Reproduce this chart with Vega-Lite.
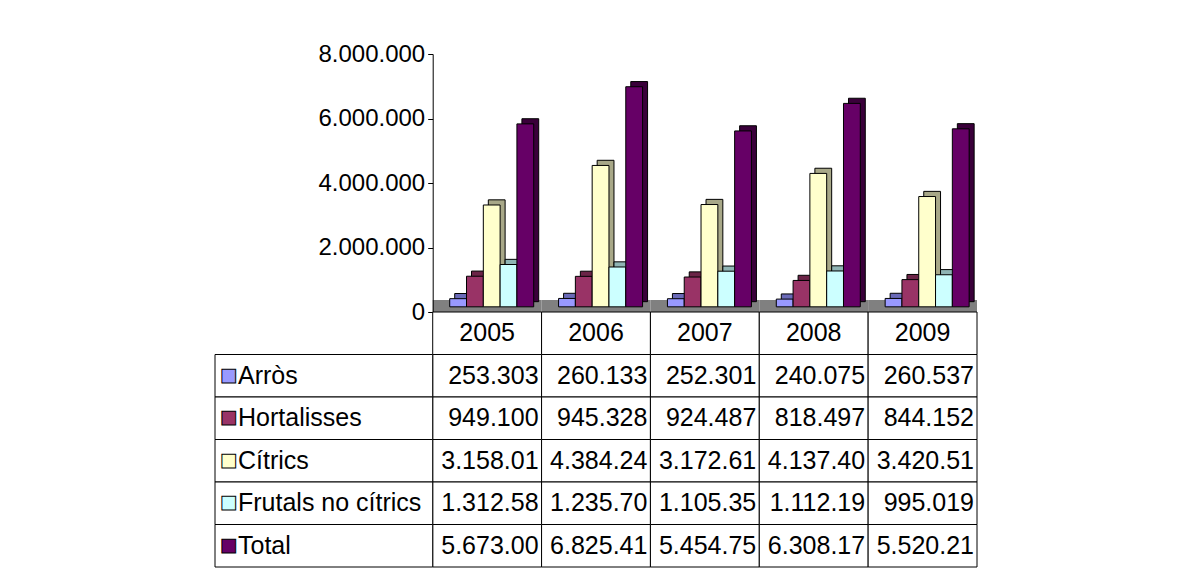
{
  "$schema": "https://vega.github.io/schema/vega-lite/v6.json",
  "padding": {"left": 214, "top": 42, "right": 0, "bottom": 0},
  "background": "white",
  "spacing": 0,
  "bounds": "flush",
  "config": {
    "view": {"stroke": null},
    "font": "Liberation Sans",
    "locale": {"number": {"decimal": ",", "thousands": ".", "grouping": [3], "currency": ["", " €"]}}
  },
  "datasets": {
    "d": [
      {"serie": "Arròs", "year": "2005", "value": 253303, "shown": "253.303"},
      {"serie": "Arròs", "year": "2006", "value": 260133, "shown": "260.133"},
      {"serie": "Arròs", "year": "2007", "value": 252301, "shown": "252.301"},
      {"serie": "Arròs", "year": "2008", "value": 240075, "shown": "240.075"},
      {"serie": "Arròs", "year": "2009", "value": 260537, "shown": "260.537"},
      {"serie": "Hortalisses", "year": "2005", "value": 949100, "shown": "949.100"},
      {"serie": "Hortalisses", "year": "2006", "value": 945328, "shown": "945.328"},
      {"serie": "Hortalisses", "year": "2007", "value": 924487, "shown": "924.487"},
      {"serie": "Hortalisses", "year": "2008", "value": 818497, "shown": "818.497"},
      {"serie": "Hortalisses", "year": "2009", "value": 844152, "shown": "844.152"},
      {"serie": "Cítrics", "year": "2005", "value": 3158010, "shown": "3.158.01"},
      {"serie": "Cítrics", "year": "2006", "value": 4384240, "shown": "4.384.24"},
      {"serie": "Cítrics", "year": "2007", "value": 3172610, "shown": "3.172.61"},
      {"serie": "Cítrics", "year": "2008", "value": 4137400, "shown": "4.137.40"},
      {"serie": "Cítrics", "year": "2009", "value": 3420510, "shown": "3.420.51"},
      {"serie": "Frutals no cítrics", "year": "2005", "value": 1312580, "shown": "1.312.58"},
      {"serie": "Frutals no cítrics", "year": "2006", "value": 1235700, "shown": "1.235.70"},
      {"serie": "Frutals no cítrics", "year": "2007", "value": 1105350, "shown": "1.105.35"},
      {"serie": "Frutals no cítrics", "year": "2008", "value": 1112190, "shown": "1.112.19"},
      {"serie": "Frutals no cítrics", "year": "2009", "value": 995019, "shown": "995.019"},
      {"serie": "Total", "year": "2005", "value": 5673000, "shown": "5.673.00"},
      {"serie": "Total", "year": "2006", "value": 6825410, "shown": "6.825.41"},
      {"serie": "Total", "year": "2007", "value": 5454750, "shown": "5.454.75"},
      {"serie": "Total", "year": "2008", "value": 6308170, "shown": "6.308.17"},
      {"serie": "Total", "year": "2009", "value": 5520210, "shown": "5.520.21"}
    ]
  },
  "vconcat": [
    {
      "width": 762,
      "height": 258,
      "data": {"name": "d"},
      "layer": [
        {
          "transform": [{"filter": "datum.serie == 'Arròs'"}],
          "mark": {"type": "bar", "color": "#808080"},
          "encoding": {
            "x": {"field": "year", "type": "nominal", "scale": {"domain": ["c0", "c1", "2005", "2006", "2007", "2008", "2009"], "paddingInner": 0, "paddingOuter": 0}, "axis": null},
            "y": {"datum": 0, "type": "quantitative", "scale": {"domain": [0, 8000000], "nice": false},
              "axis": {"title": null, "values": [0, 2000000, 4000000, 6000000, 8000000], "format": ",d", "offset": -217.7, "zindex": 2, "grid": false,
                "labelFontSize": 24, "labelFont": "Liberation Sans", "labelColor": "black", "domainColor": "black", "tickColor": "black", "tickSize": 5, "labelPadding": 3, "labelFlush": false}},
            "y2": {"datum": 370000}
          }
        },
        {
          "mark": {"type": "bar", "stroke": "black", "strokeWidth": 1},
          "encoding": {
            "x": {"field": "year", "type": "nominal", "scale": {"domain": ["c0", "c1", "2005", "2006", "2007", "2008", "2009"], "paddingInner": 0, "paddingOuter": 0}, "axis": null},
            "xOffset": {"field": "serie", "type": "nominal", "scale": {"domain": ["Arròs", "Hortalisses", "Cítrics", "Frutals no cítrics", "Total"], "range": [22, 106], "paddingInner": 0, "paddingOuter": 0}},
            "y": {"field": "value", "type": "quantitative", "scale": {"domain": [-320000, 7680000], "nice": false, "zero": false}, "axis": null},
            "color": {"field": "serie", "type": "nominal", "scale": {"domain": ["Arròs", "Hortalisses", "Cítrics", "Frutals no cítrics", "Total"], "range": ["#6A6AB8", "#6B2447", "#A8A888", "#8FB4B4", "#3A003A"]}, "legend": null}
          }
        },
        {
          "mark": {"type": "bar", "stroke": "black", "strokeWidth": 1},
          "encoding": {
            "x": {"field": "year", "type": "nominal", "scale": {"domain": ["c0", "c1", "2005", "2006", "2007", "2008", "2009"], "paddingInner": 0, "paddingOuter": 0}, "axis": null},
            "xOffset": {"field": "serie", "type": "nominal", "scale": {"domain": ["Arròs", "Hortalisses", "Cítrics", "Frutals no cítrics", "Total"], "range": [17, 101], "paddingInner": 0, "paddingOuter": 0}},
            "y": {"field": "value", "type": "quantitative", "scale": {"domain": [-160000, 7840000], "nice": false, "zero": false}, "axis": null},
            "color": {"field": "serie", "type": "nominal", "scale": {"domain": ["Arròs", "Hortalisses", "Cítrics", "Frutals no cítrics", "Total"], "range": ["#9999FF", "#993366", "#FFFFCC", "#CCFFFF", "#660066"]}, "legend": null}
          }
        }
      ],
      "resolve": {"scale": {"y": "independent", "xOffset": "independent", "color": "independent"}}
    },
    {
      "width": 762,
      "height": 255,
      "data": {"name": "d"},
      "encoding": {
        "x": {"field": "year", "type": "nominal", "scale": {"domain": ["c0", "c1", "2005", "2006", "2007", "2008", "2009"], "paddingInner": 0, "paddingOuter": 0}, "axis": null},
        "y": {"field": "serie", "type": "nominal", "scale": {"domain": ["hdr", "Arròs", "Hortalisses", "Cítrics", "Frutals no cítrics", "Total"], "paddingInner": 0, "paddingOuter": 0}, "axis": null}
      },
      "layer": [
        {
          "mark": {"type": "rect", "fill": "white", "stroke": "black", "strokeWidth": 1}
        },
        {
          "transform": [{"filter": "datum.serie == 'Arròs'"}],
          "mark": {"type": "rect", "fill": "white", "stroke": "black", "strokeWidth": 1},
          "encoding": {"y": {"datum": "hdr", "type": "nominal"}}
        },
        {
          "transform": [{"filter": "datum.year == '2005'"}],
          "mark": {"type": "rect", "fill": "white", "stroke": "black", "strokeWidth": 1},
          "encoding": {
            "x": {"datum": "c0", "type": "nominal", "bandPosition": 0},
            "x2": {"datum": "2005", "bandPosition": 0}
          }
        },
        {
          "mark": {"type": "text", "align": "right", "baseline": "middle", "dx": -3, "fontSize": 25, "color": "black"},
          "encoding": {
            "x": {"field": "year", "type": "nominal", "bandPosition": 1},
            "text": {"field": "shown"}
          }
        },
        {
          "transform": [{"filter": "datum.serie == 'Arròs'"}],
          "mark": {"type": "text", "align": "center", "baseline": "middle", "fontSize": 25, "color": "black"},
          "encoding": {
            "y": {"datum": "hdr", "type": "nominal"},
            "text": {"field": "year"}
          }
        },
        {
          "transform": [{"filter": "datum.year == '2005'"}],
          "mark": {"type": "text", "align": "left", "baseline": "middle", "dx": 5, "fontSize": 18, "font": "DejaVu Sans", "stroke": "black", "strokeWidth": 1},
          "encoding": {
            "x": {"datum": "c0", "type": "nominal", "bandPosition": 0},
            "text": {"value": "■"},
            "color": {"field": "serie", "type": "nominal", "scale": {"domain": ["Arròs", "Hortalisses", "Cítrics", "Frutals no cítrics", "Total"], "range": ["#9999FF", "#993366", "#FFFFCC", "#CCFFFF", "#660066"]}, "legend": null}
          }
        },
        {
          "transform": [{"filter": "datum.year == '2005'"}],
          "mark": {"type": "text", "align": "left", "baseline": "middle", "dx": 23, "fontSize": 25, "color": "black"},
          "encoding": {
            "x": {"datum": "c0", "type": "nominal", "bandPosition": 0},
            "text": {"field": "serie"}
          }
        }
      ]
    }
  ]
}
